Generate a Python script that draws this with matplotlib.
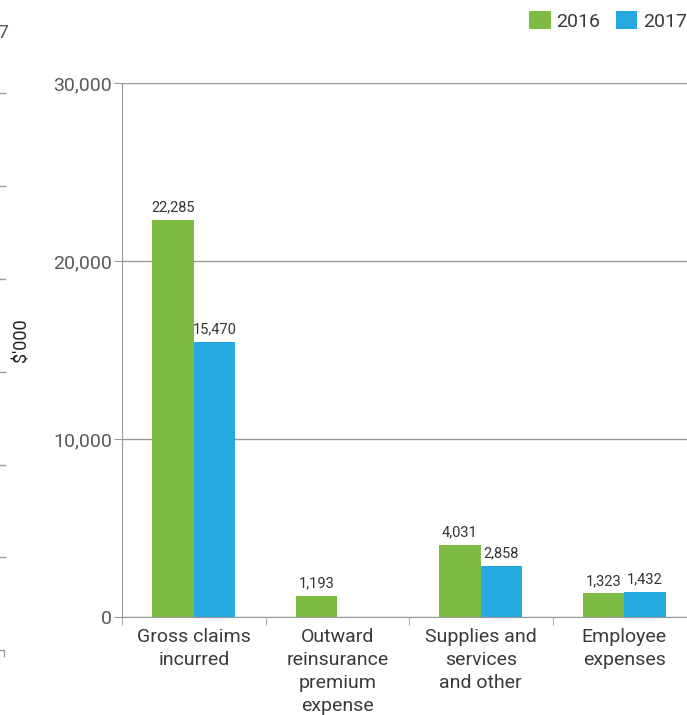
import matplotlib
matplotlib.use("Agg")
import matplotlib.pyplot as plt
from matplotlib.lines import Line2D
import numpy as np

plt.rcParams['font.family'] = ['Roboto', 'DejaVu Sans']

categorias = ["Gross claims\nincurred", "Outward\nreinsurance\npremium\nexpense",
              "Supplies and\nservices\nand other", "Employee\nexpenses"]
valores_2016 = [22285, 1193, 4031, 1323]
valores_2017 = [15470, np.nan, 2858, 1432]
anios = ["2016", "2017"]
yticks = [0, 10000, 20000, 30000]

verde = '#7dbb42'
azul = '#24a9e1'
gris = '#9a9a9a'
texto = '#3a3a3a'

fig = plt.figure(figsize=(6.87, 7.15), dpi=100)
ax = fig.add_axes([122/687, 1-617/715, 574/687, (617-83)/715])

x = np.arange(len(categorias))
ancho = 0.29
b1 = ax.bar(x - ancho/2, valores_2016, ancho, color=verde, label=anios[0], zorder=3)
b2 = ax.bar(x + ancho/2, valores_2017, ancho, color=azul, label=anios[1], zorder=3)

# etiquetas de valor encima de cada barra
for barras, vals in ((b1, valores_2016), (b2, valores_2017)):
    for b, v in zip(barras, vals):
        if np.isnan(v):
            continue
        ax.annotate(f"{v:,.0f}", (b.get_x() + b.get_width()/2, v),
                    xytext=(0, 4), textcoords='offset points',
                    ha='center', va='bottom', fontsize=10.5, color='#333333')

ax.set_xlim(-0.5, len(categorias) - 0.5)
ax.set_ylim(0, 30000)
ax.set_yticks(yticks)
ax.set_yticklabels([f"{t:,}" for t in yticks], fontsize=14, color='#5a5a5a')
ax.yaxis.grid(True, color=gris, linewidth=1, zorder=0)
ax.tick_params(axis='y', length=6, color=gris, pad=1)

ax.set_xticks(x)
ax.set_xticklabels(categorias, fontsize=14, color=texto, linespacing=1.35)
ax.set_xticks(np.arange(len(categorias)) - 0.5, minor=True)
ax.tick_params(axis='x', which='major', length=0, pad=8)
ax.tick_params(axis='x', which='minor', length=6, color=gris)

for lado in ['top', 'right']:
    ax.spines[lado].set_visible(False)
ax.spines['left'].set_color(gris)
ax.spines['bottom'].set_color(gris)

ax.set_ylabel("$'000", fontsize=13, color='#222222')
ax.yaxis.set_label_coords(-0.160, 0.519)

ax.legend(loc='upper right', bbox_to_anchor=((687 - 122 + 8)/574, 1 + 80/534),
          ncol=2, frameon=False, handlelength=1.1, handleheight=1.1,
          handletextpad=0.3, columnspacing=0.8, borderaxespad=0, labelcolor=texto,
          prop={'size': 14})

# restos del grafico vecino en el borde izquierdo
fig.text(-0.004, 1-33/715, "7", fontsize=14, color='#5a5a5a', va='center')
for yy in [93, 186, 279, 372, 465, 557]:
    fig.add_artist(Line2D([0, 5/687], [1-yy/715, 1-yy/715], color=gris, lw=1))
fig.add_artist(Line2D([0, 4/687, 4/687], [1-650/715, 1-650/715, 1-656/715], color=gris, lw=1))

fig.savefig("out.png", dpi=100)
